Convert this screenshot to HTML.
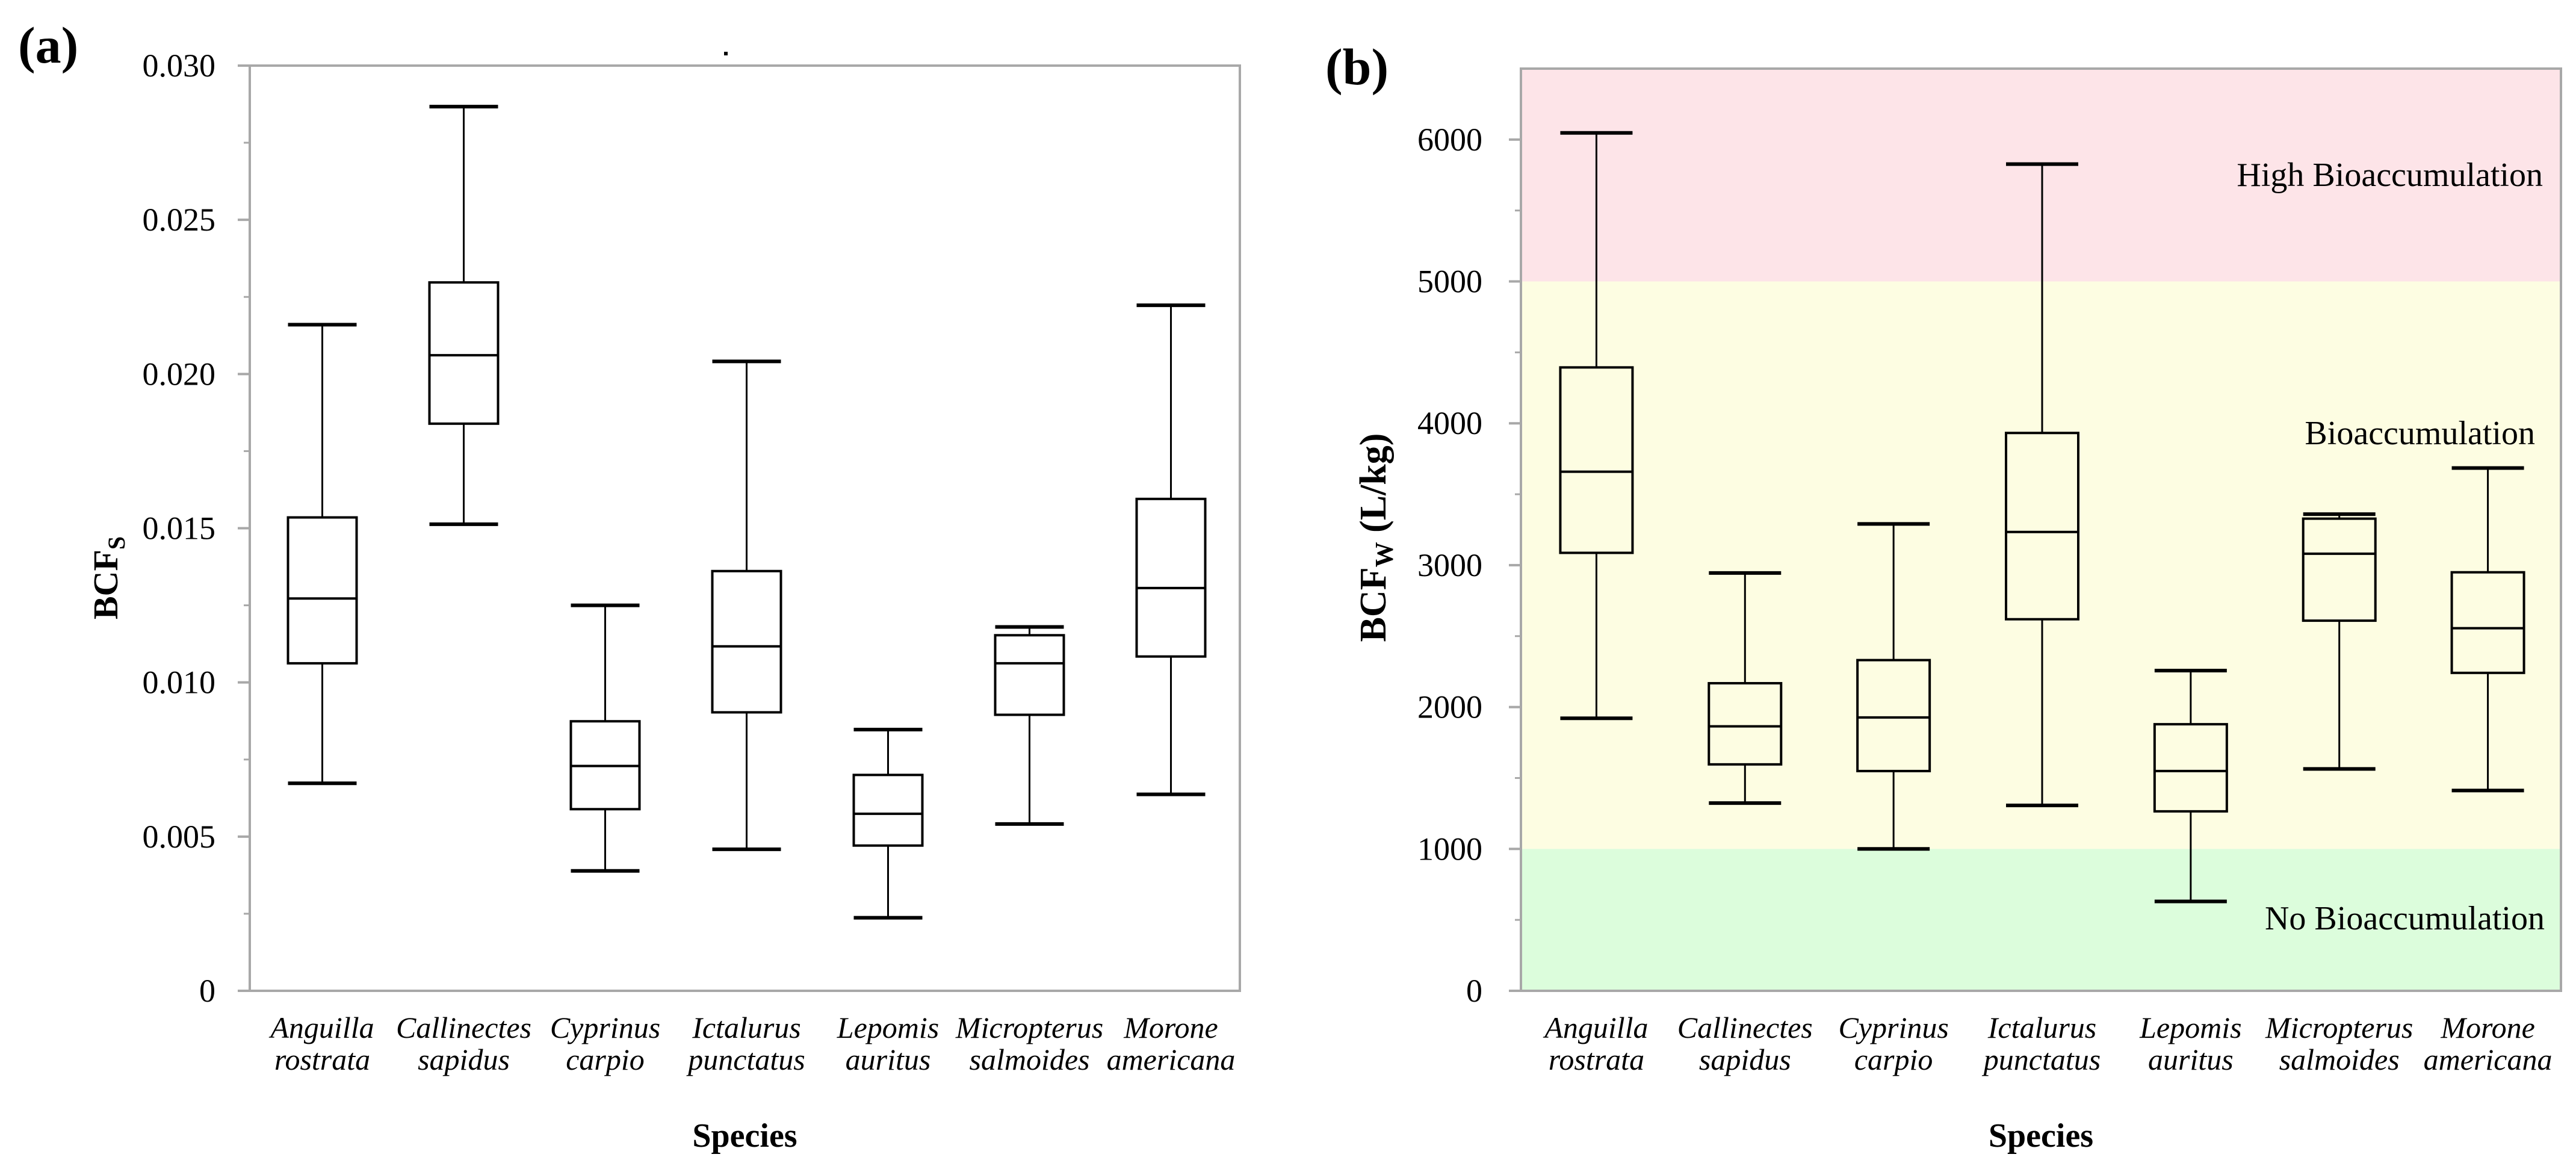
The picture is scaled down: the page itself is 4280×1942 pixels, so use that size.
<!DOCTYPE html>
<html><head><meta charset="utf-8">
<style>
html,body{margin:0;padding:0;background:#fff;}
svg{display:block;font-family:"Liberation Serif",serif;}
</style></head>
<body>
<svg id="chart" width="4280" height="1942" viewBox="0 0 4280 1942" xmlns="http://www.w3.org/2000/svg">
  <rect x="0" y="0" width="4280" height="1942" fill="#fff"/>
  <g id="panelA"></g>
  <g id="panelB"></g>
</svg>
<script>
const species1 = ["Anguilla","Callinectes","Cyprinus","Ictalurus","Lepomis","Micropterus","Morone"];
const species2 = ["rostrata","sapidus","carpio","punctatus","auritus","salmoides","americana"];
// Panel (a) BCFs
const aMin = [0.00673,0.01513,0.00389,0.00459,0.00237,0.00541,0.00637];
const aQ1  = [0.01062,0.01839,0.00589,0.00903,0.00471,0.00895,0.01084];
const aMed = [0.01272,0.02061,0.00729,0.01117,0.00574,0.01062,0.01306];
const aQ3  = [0.01535,0.02297,0.00874,0.01361,0.00700,0.01153,0.01595];
const aMax = [0.02160,0.02867,0.01250,0.02041,0.00847,0.01180,0.02223];
const aTicks = [0,0.005,0.010,0.015,0.020,0.025,0.030];
const aTickLabels = ["0","0.005","0.010","0.015","0.020","0.025","0.030"];
const aMinorTicks = [0.0025,0.0075,0.0125,0.0175,0.0225,0.0275];
// Panel (b) BCFw
const bMin = [1921,1323,1000,1307,630,1564,1412];
const bQ1  = [3087,1596,1549,2619,1265,2609,2241];
const bMed = [3659,1864,1927,3234,1549,3081,2556];
const bQ3  = [4394,2168,2331,3932,1879,3328,2950];
const bMax = [6047,2945,3291,5827,2257,3360,3685];
const bTicks = [0,1000,2000,3000,4000,5000,6000];
const bTickLabels = ["0","1000","2000","3000","4000","5000","6000"];
const bMinorTicks = [500,1500,2500,3500,4500,5500];
const bZoneLo = [5000,1000,0];
const bZoneHi = [6500,5000,1000];
const bZoneNames = ["High Bioaccumulation","Bioaccumulation","No Bioaccumulation"];
const bZoneLabelVals = [5672,3852,433];

const NS = "http://www.w3.org/2000/svg";
function mk(parent, tag, attrs, text){
  const e = document.createElementNS(NS, tag);
  for (const k in attrs) e.setAttribute(k, attrs[k]);
  if (text !== undefined) e.textContent = text;
  parent.appendChild(e);
  return e;
}

function drawPanel(g, cfg){
  const {L,R,T,B,ymax} = cfg;
  const y = v => B - (v/ymax)*(B-T);
  const band = (R-L)/7;
  const x = i => L + band*(i+0.5) + cfg.xoff;

  if (cfg.zones){
    cfg.zones.lo.forEach((lo,i)=>{
      const r = mk(g,"rect",{x:L,y:y(cfg.zones.hi[i]),width:R-L,height:y(lo)-y(cfg.zones.hi[i]),fill:cfg.zones.colors[i]});
      
      
    });
    const ends = [4225,4212,4228];
    cfg.zones.names.forEach((n,i)=>{
      const t = mk(g,"text",{x:ends[i],y:y(cfg.zones.labelVals[i]),"text-anchor":"end","font-size":56,fill:"#000"},n);
      
      
    });
  }
  const fr = mk(g,"rect",{x:L,y:T,width:R-L,height:B-T,fill:"none",stroke:"#a8a8a8","stroke-width":4});
  
  

  cfg.ticks.forEach((v,i)=>{
    const tk = mk(g,"line",{x1:L-20,x2:L,y1:y(v),y2:y(v),stroke:"#a8a8a8","stroke-width":4});
    
    
    const tl = mk(g,"text",{x:cfg.labelRight,y:y(v)+18,"text-anchor":"end","font-size":54,fill:"#000"},cfg.tickLabels[i]);
    
    
  });
  cfg.minor.forEach(v=>{
    const mt = mk(g,"line",{x1:L-10,x2:L,y1:y(v),y2:y(v),stroke:"#a8a8a8","stroke-width":3});
    
    
  });

  const w = cfg.boxW;
  for (let i=0;i<7;i++){
    const bx = mk(g,"g",{});
    
    
    const cx = x(i);
    mk(bx,"line",{x1:cx,x2:cx,y1:y(cfg.max[i]),y2:y(cfg.q3[i]),stroke:"#000","stroke-width":3});
    mk(bx,"line",{x1:cx,x2:cx,y1:y(cfg.q1[i]),y2:y(cfg.min[i]),stroke:"#000","stroke-width":3});
    mk(bx,"line",{x1:cx-w/2,x2:cx+w/2,y1:y(cfg.max[i]),y2:y(cfg.max[i]),stroke:"#000","stroke-width":6});
    mk(bx,"line",{x1:cx-w/2,x2:cx+w/2,y1:y(cfg.min[i]),y2:y(cfg.min[i]),stroke:"#000","stroke-width":6});
    mk(bx,"rect",{x:cx-w/2,y:y(cfg.q3[i]),width:w,height:y(cfg.q1[i])-y(cfg.q3[i]),fill:"none",stroke:"#000","stroke-width":4});
    mk(bx,"line",{x1:cx-w/2,x2:cx+w/2,y1:y(cfg.med[i]),y2:y(cfg.med[i]),stroke:"#000","stroke-width":4});

    const xl = mk(g,"text",{x:cx,y:1724,"text-anchor":"middle","font-size":50,"font-style":"italic",fill:"#000"},species1[i]);
    
    
    const xl2 = mk(g,"text",{x:cx,y:1777,"text-anchor":"middle","font-size":50,"font-style":"italic",fill:"#000"},species2[i]);
    
    
  }
  const xt = mk(g,"text",{x:(L+R)/2,y:1905,"text-anchor":"middle","font-size":56,"font-weight":"bold",fill:"#000"},"Species");
  
  
}

const gA = document.getElementById("panelA");
drawPanel(gA,{L:415,R:2060,T:109,B:1646,ymax:0.030,xoff:3,boxW:114,
  ticks:aTicks,tickLabels:aTickLabels,minor:aMinorTicks,labelRight:358,
  min:aMin,q1:aQ1,med:aMed,q3:aQ3,max:aMax});
const gB = document.getElementById("panelB");
drawPanel(gB,{L:2527,R:4255,T:114,B:1646,ymax:6500,xoff:2,boxW:120,
  ticks:bTicks,tickLabels:bTickLabels,minor:bMinorTicks,labelRight:2463,
  min:bMin,q1:bQ1,med:bMed,q3:bQ3,max:bMax,
  zones:{lo:bZoneLo,hi:bZoneHi,names:bZoneNames,labelVals:bZoneLabelVals,colors:["#fde4e8","#fdfde2","#dcfddc"]}});
</script>
<svg style="position:absolute;left:0;top:0" width="4280" height="1942" viewBox="0 0 4280 1942" xmlns="http://www.w3.org/2000/svg">
  <text x="30" y="104" font-family="Liberation Serif, serif" font-size="86" font-weight="bold">(a)</text>
  <text x="2202" y="140" font-family="Liberation Serif, serif" font-size="86" font-weight="bold">(b)</text>
  <rect x="1203" y="86" width="6" height="6" fill="#000"/>
  <text transform="translate(195,960) rotate(-90)" text-anchor="middle" font-family="Liberation Serif, serif" font-size="58" font-weight="bold">BCF<tspan font-size="40" dy="12">S</tspan></text>
  <text transform="translate(2302,893) rotate(-90)" text-anchor="middle" font-family="Liberation Serif, serif" font-size="62" font-weight="bold">BCF<tspan font-size="42" dy="12">W</tspan><tspan dy="-12"> (L/kg)</tspan></text>
</svg>
</body></html>
